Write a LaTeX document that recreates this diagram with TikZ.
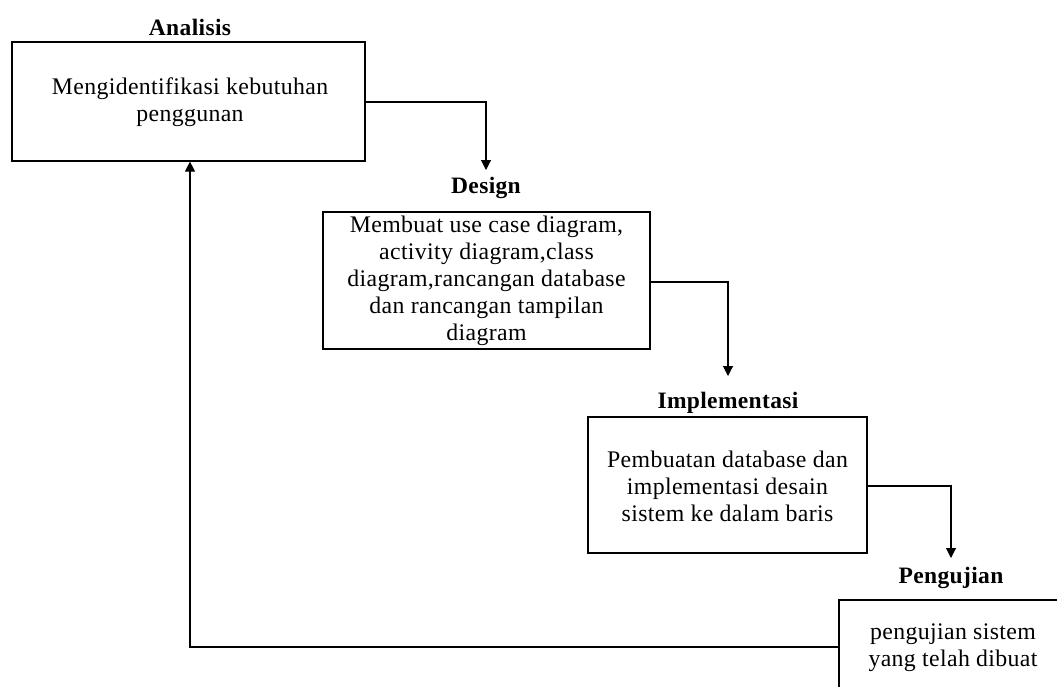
\documentclass[tikz,border=0pt]{standalone}
\usepackage{fontspec}
\setmainfont{Liberation Serif}[LetterSpace=1.5]
\usetikzlibrary{arrows.meta}
\begin{document}
\begin{tikzpicture}[x=1pt,y=-1pt,
  box/.style={draw,line width=1.2pt,inner sep=0pt},
  body/.style={align=center,font=\fontsize{23.8}{27}\selectfont,inner sep=0pt},
  title/.style={font=\bfseries\fontsize{23.5}{27}\selectfont,inner sep=0pt},
  flow/.style={line width=1.1pt,-{Triangle[length=10pt,width=10pt]}}]
\useasboundingbox (0,0) rectangle (1057,686);
\clip (0,0) rectangle (1057,686);
% boxes
\node[box,minimum width=353pt,minimum height=119pt] (a) at (188.5,101.5) {};
\node[box,minimum width=327pt,minimum height=137pt] (d) at (486.5,280.5) {};
\node[box,minimum width=279pt,minimum height=136pt] (i) at (727.5,485) {};
\node[box,minimum width=260pt,minimum height=150pt] (p) at (969,675) {};
% titles
\node[title] (ta) at (190,27) {Analisis};
\node[title] (td) at (486,188) {Design};
\node[title] (ti) at (728,403) {Implementasi};
\node[title] (tp) at (951,578) {Pengujian};
% texts
\node[body] (xa) at (190,102) {Mengidentifikasi kebutuhan\\penggunan};
\node[body] (xd) at (486.5,281) {Membuat use case diagram,\\activity diagram,class\\diagram,rancangan database\\dan rancangan tampilan\\diagram};
\node[body] (xi) at (727.5,486) {Pembuatan database dan\\implementasi desain\\sistem ke dalam baris};
\node[body] (xp) at (953,648) {pengujian sistem\\yang telah dibuat};
% connectors
\coordinate (ca) at (486,102);
\coordinate (cd) at (728,282);
\coordinate (ci) at (951,486);
\coordinate (cp) at (190,647);
\draw[flow] (a.east |- ca) -- (ca) -- (ca |- 0,170);
\draw[flow] (d.east |- cd) -- (cd) -- (cd |- 0,376);
\draw[flow] (i.east |- ci) -- (ci) -- (ci |- 0,558);
\draw[flow] (p.west |- cp) -- (cp) -- (a.south -| cp);
\end{tikzpicture}
\end{document}
